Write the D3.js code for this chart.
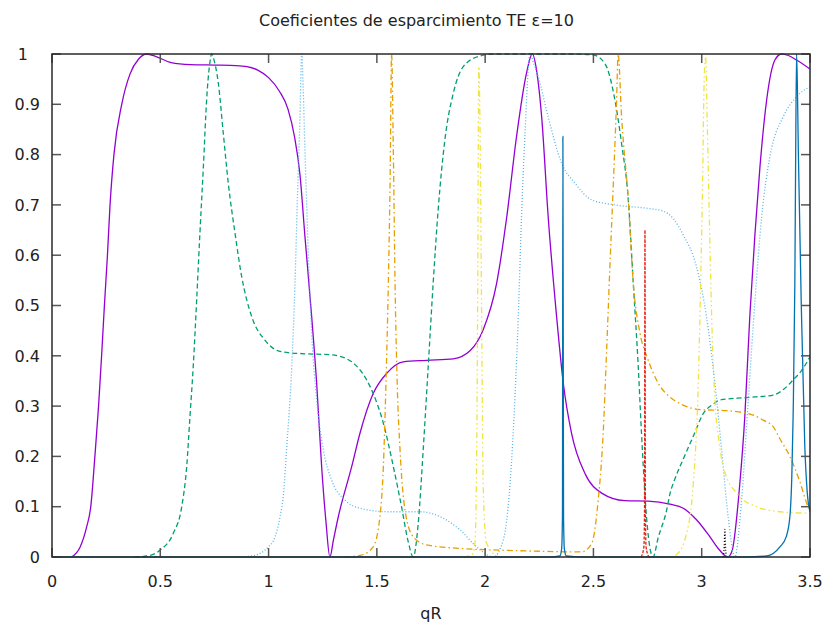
<!DOCTYPE html>
<html>
<head>
<meta charset="utf-8">
<script src="https://cdn.jsdelivr.net/npm/d3@7"></script>
<style>
  html, body { margin:0; padding:0; background:#fff; }
  svg text { font-family: "DejaVu Sans", sans-serif; fill:#222; }
</style>
</head>
<body>
<svg id="chart" width="833" height="630"></svg>
<script>
// ==================== DATA ====================
const xTicks = [0, 0.5, 1, 1.5, 2, 2.5, 3, 3.5];
const yTicks = [0, 0.1, 0.2, 0.3, 0.4, 0.5, 0.6, 0.7, 0.8, 0.9, 1];

// [qR, coeficiente]
const serie1 = [[0.09,0],[0.13,0.02],[0.16,0.06],[0.179,0.1],[0.198,0.2],[0.215,0.3],[0.229,0.4],[0.242,0.5],[0.256,0.6],[0.268,0.7],[0.286,0.8],[0.322,0.9],[0.36,0.96],[0.4,0.99],[0.437,1.0],[0.48,0.995],[0.55,0.983],[0.64,0.979],[0.75,0.978],[0.85,0.977],[0.9,0.975],[0.95,0.968],[1.0,0.953],[1.05,0.926],[1.09,0.89],[1.12,0.835],[1.145,0.76],[1.168,0.637],[1.199,0.478],[1.222,0.346],[1.245,0.18],[1.265,0.07],[1.283,0],[1.3,0.035],[1.322,0.08],[1.384,0.18],[1.422,0.246],[1.483,0.325],[1.545,0.365],[1.622,0.388],[1.73,0.391],[1.853,0.394],[1.93,0.41],[1.99,0.451],[2.053,0.544],[2.1,0.677],[2.145,0.836],[2.19,0.96],[2.218,1.0],[2.24,0.96],[2.261,0.875],[2.291,0.677],[2.33,0.478],[2.361,0.345],[2.399,0.246],[2.461,0.166],[2.538,0.127],[2.645,0.112],[2.753,0.111],[2.853,0.105],[2.915,0.097],[2.976,0.074],[3.038,0.04],[3.08,0.015],[3.12,0],[3.14,0.012],[3.176,0.146],[3.199,0.279],[3.222,0.478],[3.246,0.643],[3.269,0.776],[3.3,0.909],[3.338,0.988],[3.369,1.0],[3.4,0.997],[3.438,0.988],[3.5,0.97]];
const serie2 = [[0.38,0],[0.437,0.002],[0.5,0.014],[0.56,0.047],[0.599,0.1],[0.622,0.18],[0.637,0.279],[0.652,0.378],[0.668,0.511],[0.683,0.644],[0.699,0.776],[0.714,0.909],[0.728,0.98],[0.737,1.0],[0.75,0.985],[0.768,0.942],[0.791,0.842],[0.814,0.743],[0.845,0.644],[0.876,0.557],[0.922,0.478],[0.983,0.431],[1.06,0.408],[1.168,0.404],[1.291,0.402],[1.384,0.388],[1.422,0.372],[1.483,0.325],[1.53,0.266],[1.576,0.18],[1.614,0.1],[1.645,0.03],[1.668,0],[1.691,0.067],[1.714,0.213],[1.737,0.378],[1.76,0.544],[1.783,0.69],[1.814,0.829],[1.853,0.922],[1.899,0.975],[1.976,0.996],[2.037,1.0],[2.2,1.0],[2.4,1.0],[2.499,0.998],[2.553,0.981],[2.599,0.909],[2.63,0.822],[2.661,0.71],[2.684,0.544],[2.707,0.378],[2.722,0.246],[2.745,0.08],[2.775,0],[2.8,0.04],[2.838,0.093],[2.853,0.125],[2.876,0.155],[2.915,0.195],[2.961,0.24],[3.007,0.285],[3.05,0.303],[3.084,0.312],[3.207,0.317],[3.33,0.322],[3.38,0.334],[3.422,0.352],[3.46,0.37],[3.5,0.398]];
const serie3 = [[0.85,0],[0.922,0.002],[0.999,0.02],[1.03,0.04],[1.053,0.08],[1.07,0.13],[1.083,0.213],[1.107,0.378],[1.122,0.544],[1.133,0.71],[1.145,0.875],[1.153,1.0],[1.16,0.93],[1.168,0.809],[1.183,0.61],[1.199,0.445],[1.222,0.312],[1.253,0.213],[1.291,0.153],[1.353,0.113],[1.422,0.097],[1.545,0.09],[1.699,0.09],[1.807,0.077],[1.884,0.054],[1.961,0.02],[2.037,0],[2.084,0.034],[2.115,0.146],[2.138,0.32],[2.153,0.478],[2.168,0.677],[2.184,0.842],[2.207,1.0],[2.225,0.98],[2.245,0.955],[2.291,0.875],[2.353,0.783],[2.415,0.743],[2.492,0.71],[2.599,0.7],[2.753,0.693],[2.82,0.688],[2.87,0.672],[2.915,0.64],[2.976,0.577],[3.022,0.478],[3.061,0.345],[3.092,0.213],[3.122,0.08],[3.153,0],[3.184,0.113],[3.215,0.312],[3.246,0.511],[3.277,0.677],[3.315,0.796],[3.376,0.875],[3.438,0.915],[3.5,0.935]];
const serie4 = [[1.35,0],[1.422,0.003],[1.483,0.02],[1.514,0.08],[1.53,0.18],[1.542,0.345],[1.553,0.544],[1.561,0.743],[1.568,1.0],[1.576,0.809],[1.584,0.544],[1.594,0.345],[1.607,0.213],[1.63,0.093],[1.668,0.04],[1.73,0.024],[1.884,0.017],[2.037,0.014],[2.2,0.012],[2.445,0.01],[2.492,0.027],[2.522,0.113],[2.545,0.246],[2.561,0.411],[2.576,0.577],[2.592,0.743],[2.607,0.909],[2.614,1.0],[2.63,0.875],[2.661,0.71],[2.684,0.544],[2.715,0.445],[2.75,0.395],[2.8,0.345],[2.853,0.318],[2.9,0.305],[2.992,0.293],[3.115,0.291],[3.161,0.289],[3.238,0.282],[3.284,0.272],[3.33,0.259],[3.361,0.235],[3.407,0.2],[3.453,0.15],[3.492,0.1],[3.5,0.095]];
const serie5 = [[1.9,0],[1.94,0.005],[1.953,0.027],[1.961,0.213],[1.965,0.478],[1.971,0.975],[1.975,0.9],[1.979,0.743],[1.985,0.411],[1.991,0.146],[2.0,0.05],[2.007,0.027],[2.068,0],[2.85,0],[2.884,0.005],[2.93,0.047],[2.961,0.146],[2.984,0.345],[2.995,0.544],[3.004,0.743],[3.011,0.942],[3.018,0.995],[3.025,0.875],[3.035,0.677],[3.046,0.478],[3.061,0.312],[3.08,0.23],[3.099,0.18],[3.161,0.127],[3.253,0.1],[3.361,0.09],[3.5,0.087]];
const serie6 = [[0,0],[2.3,0],[2.345,0.002],[2.353,0.015],[2.357,0.08],[2.359,0.836],[2.362,0.08],[2.366,0.015],[2.375,0.002],[2.45,0],[3.2,0],[3.3,0.002],[3.361,0.02],[3.39,0.04],[3.407,0.08],[3.416,0.16],[3.422,0.279],[3.43,0.544],[3.434,0.809],[3.438,1.0],[3.442,0.93],[3.446,0.809],[3.461,0.478],[3.476,0.22],[3.487,0.13],[3.5,0.09]];
const serie7 = [[2.72,0],[2.733,0.02],[2.736,0.1],[2.738,0.65],[2.740,0.1],[2.743,0.02],[2.756,0]];
const serie8 = [[3.1,0],[3.104,0.02],[3.107,0.055],[3.11,0.02],[3.114,0]];

const series = [
  { data: serie1, color: "#9400d3", dash: null },
  { data: serie2, color: "#009e73", dash: "5,3" },
  { data: serie3, color: "#56b4e9", dash: "1,2" },
  { data: serie4, color: "#e69f00", dash: "6,3,1.5,3" },
  { data: serie5, color: "#f0e442", dash: "6,3,1.5,3,1.5,3" },
  { data: serie6, color: "#0072b2", dash: null },
  { data: serie7, color: "#e51e10", dash: "3,1.5" },
  { data: serie8, color: "#000000", dash: "1,2" }
];

// ==================== LAYOUT ====================
const svg = d3.select("#chart");
const mLeft = 52, mRight = 810, mTop = 54, mBottom = 557;

const x = d3.scaleLinear().domain([0, 3.5]).range([mLeft, mRight]);
const y = d3.scaleLinear().domain([0, 1]).range([mBottom, mTop]);

svg.append("defs").append("clipPath").attr("id","plotClip")
  .append("rect").attr("x",mLeft).attr("y",mTop-1).attr("width",mRight-mLeft).attr("height",mBottom-mTop+2);

// ==================== CURVES ====================
const line = d3.line().x(d=>x(d[0])).y(d=>y(d[1])).curve(d3.curveMonotoneX);

const plot = svg.append("g").attr("clip-path","url(#plotClip)");
series.forEach(s=>{
  plot.append("path")
    .attr("d", line(s.data))
    .attr("fill","none")
    .attr("stroke", s.color)
    .attr("stroke-width", 1.3)
    .attr("stroke-dasharray", s.dash);
});

// ==================== AXES ====================
const tickLen = 9;
const axes = svg.append("g");

// ticks inward on all four sides
axes.selectAll(".xt").data(xTicks).join("g").each(function(d){
  const g = d3.select(this);
  g.append("line").attr("x1",x(d)).attr("x2",x(d)).attr("y1",mBottom).attr("y2",mBottom-tickLen);
  g.append("line").attr("x1",x(d)).attr("x2",x(d)).attr("y1",mTop).attr("y2",mTop+tickLen);
});
axes.selectAll(".yt").data(yTicks).join("g").each(function(d){
  const g = d3.select(this);
  g.append("line").attr("x1",mLeft).attr("x2",mLeft+tickLen).attr("y1",y(d)).attr("y2",y(d));
  g.append("line").attr("x1",mRight).attr("x2",mRight-tickLen).attr("y1",y(d)).attr("y2",y(d));
});
axes.selectAll("line").attr("stroke","#555").attr("stroke-width",1.5);

axes.append("rect")
  .attr("x",mLeft).attr("y",mTop).attr("width",mRight-mLeft).attr("height",mBottom-mTop)
  .attr("fill","none").attr("stroke","#2a2a2a").attr("stroke-width",1.5);

// tick labels
svg.append("g").selectAll("text").data(xTicks).join("text")
  .attr("x",d=>x(d)).attr("y",587)
  .attr("text-anchor","middle").style("font-size","16px")
  .text(d=>d3.format("~g")(d));

svg.append("g").selectAll("text").data(yTicks).join("text")
  .attr("x",d=> d===1 ? 28 : 40).attr("y",d=>y(d)).attr("dy","0.36em")
  .attr("text-anchor","end").style("font-size","16px")
  .text(d=>d3.format("~g")(d));

// ==================== TITLES ====================
svg.append("text").attr("x",416.5).attr("y",26).attr("text-anchor","middle")
  .style("font-size","16px").text("Coeficientes de esparcimiento TE ε=10");

svg.append("text").attr("x",(mLeft+mRight)/2).attr("y",619).attr("text-anchor","middle")
  .style("font-size","16px").text("qR");
</script>
</body>
</html>
